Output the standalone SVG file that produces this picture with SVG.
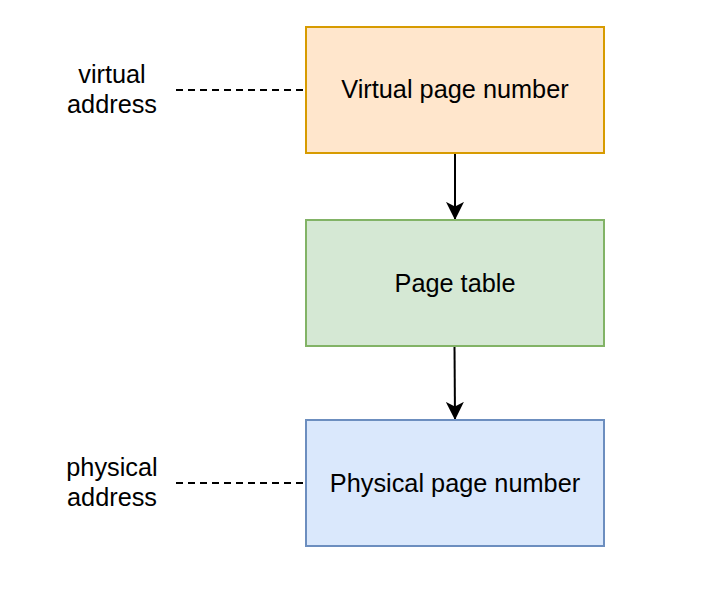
<svg xmlns="http://www.w3.org/2000/svg" width="727" height="594" viewBox="0 0 727 594">
<style>
text{font-family:"Liberation Sans",Arial,sans-serif;font-size:25.3px;fill:#000;text-anchor:middle;dominant-baseline:central}
.box{stroke-width:2}
.dash{stroke:#000;stroke-width:2;stroke-dasharray:7 5;fill:none}
.arr{stroke:#000;stroke-width:2;fill:none}
</style>
<defs>
<marker id="ah" viewBox="0 0 20 20" refX="19" refY="10" markerWidth="18" markerHeight="18" markerUnits="userSpaceOnUse" orient="auto">
<path d="M0,0 L20,10 L0,20 L5,10 Z" fill="#000"/>
</marker>
</defs>
<rect width="727" height="594" fill="#fff"/>
<g id="connectors">
<line class="dash" x1="176" y1="90" x2="306" y2="90"/>
<line class="dash" x1="176" y1="483" x2="306" y2="483"/>
<line class="arr" x1="455" y1="153" x2="455" y2="219" marker-end="url(#ah)"/>
<line class="arr" x1="454.5" y1="346" x2="455" y2="419" marker-end="url(#ah)"/>
</g>
<g id="vpn">
<rect class="box" x="306" y="27" width="298" height="126" fill="#ffe6cc" stroke="#d79b00"/>
<text x="455" y="89">Virtual page number</text>
</g>
<g id="pt">
<rect class="box" x="306" y="220" width="298" height="126" fill="#d5e8d4" stroke="#82b366"/>
<text x="455" y="283">Page table</text>
</g>
<g id="ppn">
<rect class="box" x="306" y="420" width="298" height="126" fill="#dae8fc" stroke="#6c8ebf"/>
<text x="455" y="483">Physical page number</text>
</g>
<g id="va">
<text x="112" y="74">virtual</text>
<text x="112" y="104">address</text>
</g>
<g id="pa">
<text x="112" y="467">physical</text>
<text x="112" y="497">address</text>
</g>
</svg>
